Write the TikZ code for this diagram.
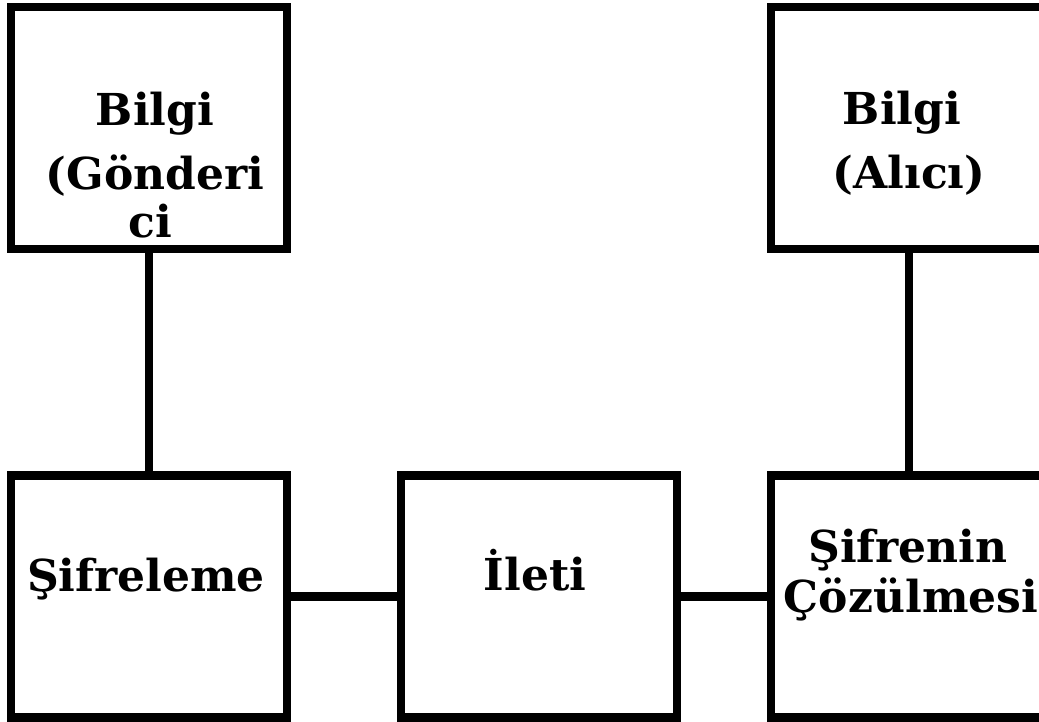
\documentclass[tikz,border=0pt]{standalone}
\usepackage{fontspec}
\setmainfont{DejaVu Serif}
\begin{document}
\begin{tikzpicture}[x=1pt,y=-1pt,
  box/.style={draw,line width=8.5pt,minimum width=276pt,minimum height=242pt,inner sep=0pt},
  lbl/.style={font=\bfseries\fontsize{44}{52}\selectfont,anchor=base,inner sep=0pt},
  link/.style={line width=8.5pt}]
\useasboundingbox (0,0) rectangle (1039,721);
\clip (0,0) rectangle (1039,721);
\node[box] (tl) at (149,128) {};
\node[box] (tr) at (909,128) {};
\node[box] (bl) at (149,596.5) {};
\node[box] (bm) at (539,596.5) {};
\node[box] (br) at (909,596.5) {};
\draw[link] (tl.south) -- (bl.north);
\draw[link] (tr.south) -- (br.north);
\draw[link] (bl.east) -- (bm.west);
\draw[link] (bm.east) -- (br.west);
\node[lbl] (tla) at (155,125) {Bilgi};
\node[lbl] (tlb) at (155,189) {(Gönderi};
\node[lbl] (tlc) at (150,237) {ci};
\node[lbl] (tra) at (902,124) {Bilgi};
\node[lbl] (trb) at (909,188) {(Alıcı)};
\node[lbl] (bla) at (146,591) {Şifreleme};
\node[lbl] (bma) at (535,590) {İleti};
\node[lbl] (bra) at (908,562) {Şifrenin};
\node[lbl] (brb) at (911,612) {Çözülmesi};
\end{tikzpicture}
\end{document}
